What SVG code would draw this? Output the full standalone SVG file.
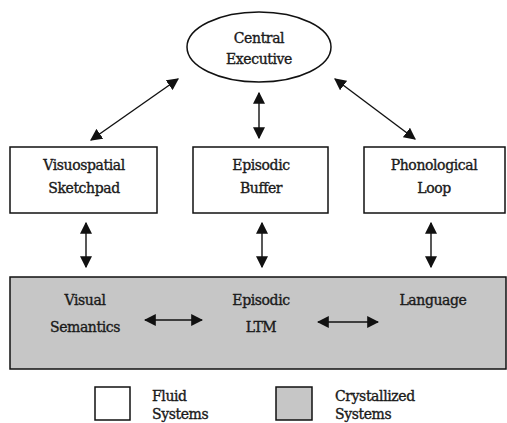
<svg xmlns="http://www.w3.org/2000/svg" width="507" height="423" viewBox="0 0 507 423">
<style>
text{font-family:"DejaVu Serif","Liberation Serif",serif;font-size:14px;fill:#1a1a1a;stroke:#1a1a1a;stroke-width:0.35;text-anchor:middle;letter-spacing:-0.4px}
.box{fill:#fff;stroke:#111;stroke-width:1.5}
.gray{fill:#c6c6c6;stroke:#111;stroke-width:1.5}
.c{stroke:#111;stroke-width:1.4;fill:none;marker-start:url(#ah);marker-end:url(#ah)}
</style>
<defs>
<marker id="ah" viewBox="0 0 10 10" refX="9" refY="5" markerWidth="12" markerHeight="12" markerUnits="userSpaceOnUse" orient="auto-start-reverse">
<path d="M0,0L10,5L0,10z" fill="#111"/>
</marker>
</defs>
<g id="ltm">
<rect class="gray" x="10" y="277" width="496" height="92"/>
</g>
<g id="central-executive">
<ellipse class="box" cx="259" cy="47" rx="72" ry="35"/>
<text x="259" y="43">Central</text>
<text x="259" y="64">Executive</text>
</g>
<g id="visuospatial">
<rect class="box" x="10" y="147" width="147" height="66"/>
<text x="84" y="170">Visuospatial</text>
<text x="84" y="193">Sketchpad</text>
</g>
<g id="episodic-buffer">
<rect class="box" x="193" y="147" width="135" height="66"/>
<text x="261" y="170">Episodic</text>
<text x="261" y="193">Buffer</text>
</g>
<g id="phonological">
<rect class="box" x="364" y="147" width="141" height="66"/>
<text x="434" y="170">Phonological</text>
<text x="434" y="193">Loop</text>
</g>
<g id="visual-semantics">
<text x="85" y="305">Visual</text>
<text x="85" y="332">Semantics</text>
</g>
<g id="episodic-ltm">
<text x="261" y="305">Episodic</text>
<text x="261" y="332">LTM</text>
</g>
<g id="language">
<text x="433" y="305">Language</text>
</g>
<g id="legend">
<rect class="box" x="95" y="387" width="35" height="33"/>
<text x="152" y="401" style="text-anchor:start">Fluid</text>
<text x="152" y="419" style="text-anchor:start">Systems</text>
<rect class="gray" x="276" y="387" width="36" height="33"/>
<text x="335" y="401" style="text-anchor:start">Crystallized</text>
<text x="335" y="419" style="text-anchor:start">Systems</text>
</g>
<g id="connectors">
<line class="c" x1="178" y1="79" x2="91" y2="140"/>
<line class="c" x1="259" y1="93" x2="259" y2="138"/>
<line class="c" x1="335" y1="79" x2="415" y2="139"/>
<line class="c" x1="86" y1="223" x2="86" y2="267"/>
<line class="c" x1="262" y1="223" x2="262" y2="267"/>
<line class="c" x1="431" y1="223" x2="431" y2="267"/>
<line class="c" x1="145" y1="320" x2="202" y2="320"/>
<line class="c" x1="318" y1="322" x2="378" y2="322"/>
</g>
</svg>
